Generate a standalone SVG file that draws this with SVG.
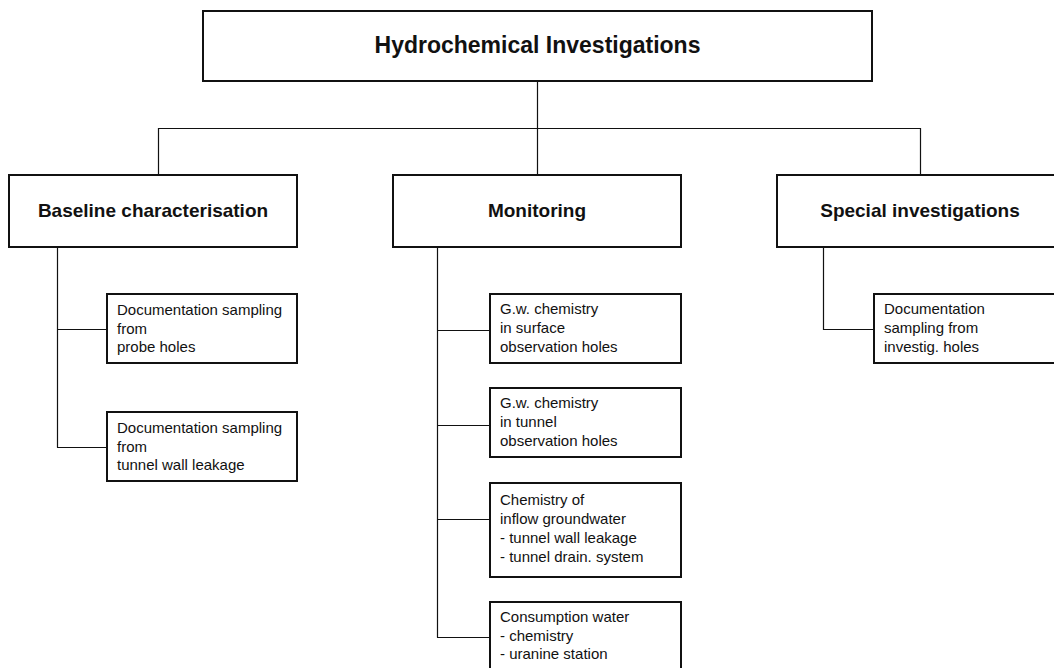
<svg xmlns="http://www.w3.org/2000/svg" width="1054" height="668" viewBox="0 0 1054 668">
  <style>
    .box { fill: #ffffff; stroke: #111111; stroke-width: 2; }
    .wire { fill: none; stroke: #111111; stroke-width: 1.2; }
    .title { font-family: "Liberation Sans", Arial, sans-serif; font-weight: bold; fill: #111111; text-anchor: middle; }
    .item { font-family: "Liberation Sans", Arial, sans-serif; font-size: 15px; fill: #111111; }
  </style>
  <rect width="1054" height="668" fill="#ffffff"/>

  <!-- connectors -->
  <g id="connectors" class="wire">
    <path d="M537.5 81 V128.5 M158.5 128.5 H920.5 M158.5 128 V175 M537.5 128 V175 M920.5 128 V175"/>
    <path d="M57.5 247 V447.5 M57 329.5 H107 M57 447.5 H107"/>
    <path d="M437.5 247 V637.5 M437 330.5 H490 M437 425.5 H490 M437 519.5 H490 M437 637.5 H490"/>
    <path d="M823.5 247 V329.5 H874"/>
  </g>

  <!-- root -->
  <g id="hydrochemical-investigations">
    <rect class="box" x="203" y="11" width="669" height="70"/>
    <text class="title" x="537.5" y="53" font-size="23">Hydrochemical Investigations</text>
  </g>

  <!-- branches -->
  <g id="baseline-characterisation">
    <rect class="box" x="9" y="175" width="288" height="72"/>
    <text class="title" x="153" y="217" font-size="19">Baseline characterisation</text>
  </g>
  <g id="monitoring">
    <rect class="box" x="393" y="175" width="288" height="72"/>
    <text class="title" x="537" y="217" font-size="19">Monitoring</text>
  </g>
  <g id="special-investigations">
    <rect class="box" x="777" y="175" width="288" height="72"/>
    <text class="title" x="920" y="217" font-size="19">Special investigations</text>
  </g>

  <!-- baseline leaves -->
  <g id="doc-probe-holes">
    <rect class="box" x="107" y="294" width="190" height="69"/>
    <text class="item" x="117" y="315"><tspan x="117">Documentation sampling</tspan><tspan x="117" dy="18.7">from</tspan><tspan x="117" dy="18.7">probe holes</tspan></text>
  </g>
  <g id="doc-tunnel-wall">
    <rect class="box" x="107" y="412" width="190" height="69"/>
    <text class="item" x="117" y="433"><tspan x="117">Documentation sampling</tspan><tspan x="117" dy="18.7">from</tspan><tspan x="117" dy="18.7">tunnel wall leakage</tspan></text>
  </g>

  <!-- monitoring leaves -->
  <g id="gw-surface">
    <rect class="box" x="490" y="294" width="191" height="69"/>
    <text class="item" x="500" y="314"><tspan x="500">G.w. chemistry</tspan><tspan x="500" dy="18.9">in surface</tspan><tspan x="500" dy="18.9">observation holes</tspan></text>
  </g>
  <g id="gw-tunnel">
    <rect class="box" x="490" y="388" width="191" height="69"/>
    <text class="item" x="500" y="408"><tspan x="500">G.w. chemistry</tspan><tspan x="500" dy="18.9">in tunnel</tspan><tspan x="500" dy="18.9">observation holes</tspan></text>
  </g>
  <g id="inflow-groundwater">
    <rect class="box" x="490" y="483" width="191" height="94"/>
    <text class="item" x="500" y="505"><tspan x="500">Chemistry of</tspan><tspan x="500" dy="19">inflow groundwater</tspan><tspan x="500" dy="19">- tunnel wall leakage</tspan><tspan x="500" dy="19">- tunnel drain. system</tspan></text>
  </g>
  <g id="consumption-water">
    <rect class="box" x="490" y="602" width="191" height="69"/>
    <text class="item" x="500" y="622"><tspan x="500">Consumption water</tspan><tspan x="500" dy="18.7">- chemistry</tspan><tspan x="500" dy="18.7">- uranine station</tspan></text>
  </g>

  <!-- special leaf -->
  <g id="doc-investig-holes">
    <rect class="box" x="874" y="294" width="191" height="69"/>
    <text class="item" x="884" y="314"><tspan x="884">Documentation</tspan><tspan x="884" dy="18.9">sampling from</tspan><tspan x="884" dy="18.9">investig. holes</tspan></text>
  </g>
</svg>
